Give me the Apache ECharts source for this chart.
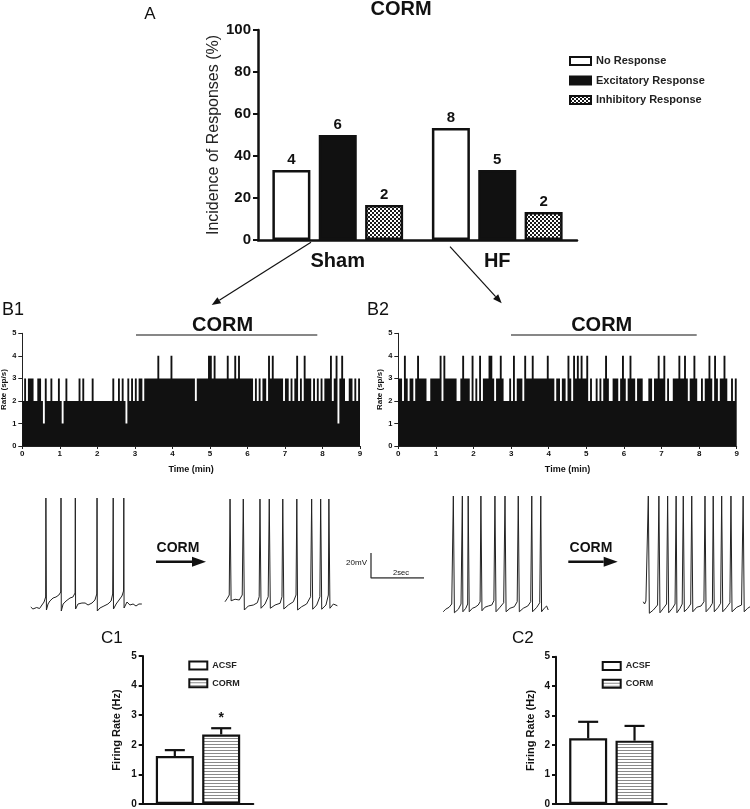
<!DOCTYPE html>
<html><head><meta charset="utf-8">
<script src="https://cdn.jsdelivr.net/npm/echarts@6/dist/echarts.min.js"></script>
<style>html,body{margin:0;padding:0;background:#fff}#c{width:750px;height:809px}</style>
</head><body><div id="c"></div>
<script>
// ---------- Panel A data ----------
const groups = ['Sham', 'HF'];
const noResp = [33.3, 53.3];
const excit = [50, 33.3];
const inhib = [16.7, 13.3];
const noRespN = [4, 8];
const excitN = [6, 5];
const inhibN = [2, 2];

// ---------- Panel B rate histograms (3-s bins, spikes/s), 10 bins per string ----------
const binMin = 0.05;
const b1Rate = [
  "2323332233","2132232223","2123222222","3232222322","2222222232","2323213232",
  "3233233333","3343333334","3333333333","3323333334","4343333334","3334343333",
  "3332323233","2434333332","3323234232","4333232323","2333423413","4322332323"
];
const b2Rate = [
  "3324323323","4333322333","3342433333","3223433324","2324233344","3233432223",
  "2423332433","3433333334","3332332332","4324343433","4232232323","4322333234",
  "3234332333","2223323343","3423223334","3343233432","2323343243","2334322323"
];
const timeTicksMax = 9;

// ---------- Membrane potential traces [s, mV] ----------
const traceShamACSF = [[0.03,-61.6],[0.11,-63.2],[0.25,-62],[0.36,-62.8],[0.45,-60],[0.53,-57.6],[0.59,-53.6],[0.60,25.6],[0.62,-64],[0.68,-59.2],[0.75,-56.8],[0.87,-54.4],[0.98,-53.6],[1.09,-52],[1.16,-49.6],[1.17,25.6],[1.18,-64.8],[1.25,-59.2],[1.36,-56.8],[1.51,-54.4],[1.62,-53.6],[1.70,-50.4],[1.71,25.6],[1.72,-63.2],[1.81,-59.2],[1.96,-58.4],[2.08,-58.4],[2.19,-60],[2.34,-58.4],[2.45,-56],[2.52,-51.2],[2.53,25.6],[2.54,-64.8],[2.64,-62.4],[2.79,-60.8],[2.94,-59.2],[3.06,-56.8],[3.12,-51.2],[3.14,25.6],[3.15,-63.2],[3.25,-59.2],[3.36,-56],[3.47,-52.8],[3.53,-48.8],[3.54,25.6],[3.55,-62.4],[3.66,-57.6],[3.77,-60],[3.89,-59.2],[4.00,-60.8],[4.11,-59.2],[4.22,-59.2]];
const traceShamCORM = [[0.00,-57.4],[0.09,-54.6],[0.16,-52],[0.19,24.8],[0.23,-56.6],[0.38,-55.4],[0.54,-56],[0.65,-52],[0.69,24.8],[0.73,-64],[0.88,-60.8],[1.07,-60],[1.22,-58.2],[1.29,-53.4],[1.32,24.8],[1.36,-62.6],[1.51,-59.2],[1.63,-53.4],[1.67,24.8],[1.71,-62.6],[1.89,-60],[2.08,-58.6],[2.15,-53.4],[2.18,24.8],[2.22,-63.2],[2.39,-60],[2.58,-57.4],[2.68,-52],[2.71,24.8],[2.74,-64],[2.89,-61.4],[3.08,-59.2],[3.23,-53.4],[3.27,24.8],[3.31,-63.4],[3.46,-60],[3.58,-53.4],[3.61,24.8],[3.65,-63.4],[3.81,-60],[3.90,-52],[3.92,24.8],[3.96,-62.6],[4.09,-59.2],[4.24,-60.6]];
const traceHFACSF = [[0.01,-65.4],[0.10,-63.4],[0.23,-61.8],[0.33,-59.2],[0.39,27.2],[0.43,-66.2],[0.58,-63.4],[0.68,-59.2],[0.73,27.2],[0.75,-65.4],[0.86,-62.6],[0.93,-59.2],[0.95,27.2],[0.99,-65.4],[1.11,-62.6],[1.21,-61.8],[1.33,-60],[1.40,-57.4],[1.43,27.2],[1.47,-64.6],[1.58,-61.8],[1.71,-60.8],[1.84,-60],[1.92,-56.6],[1.96,27.2],[2.00,-65.4],[2.15,-61.8],[2.29,-58.2],[2.34,27.2],[2.38,-65.4],[2.53,-62.6],[2.69,-61.4],[2.80,-57.4],[2.84,27.2],[2.88,-65.4],[3.03,-62.6],[3.20,-60.8],[3.31,-57.4],[3.35,27.2],[3.38,-65.4],[3.54,-61.8],[3.65,-58.2],[3.69,27.2],[3.72,-65.4],[3.82,-62.6],[3.91,-60.8],[3.97,-64]];
const traceHFCORM = [[0.01,-57.4],[0.06,-59.2],[0.11,-56.8],[0.17,-55.2],[0.20,27.2],[0.24,-66.6],[0.39,-64],[0.55,-60],[0.60,27.2],[0.64,-66.2],[0.77,-62.6],[0.89,-59.2],[0.93,27.2],[0.97,-66.2],[1.11,-62.6],[1.21,-59.2],[1.25,27.2],[1.28,-66.2],[1.40,-62.6],[1.48,-59.2],[1.52,27.2],[1.56,-65.4],[1.69,-62.6],[1.80,-59.2],[1.84,27.2],[1.88,-65.4],[2.03,-61.8],[2.19,-60.8],[2.30,-57.4],[2.34,27.2],[2.38,-65.4],[2.53,-61.8],[2.62,-58.6],[2.65,27.2],[2.69,-65.4],[2.84,-61.8],[2.93,-58.6],[2.97,27.2],[3.01,-65.4],[3.16,-61.8],[3.28,-58.2],[3.32,27.2],[3.36,-65.4],[3.54,-61.8],[3.72,-60],[3.78,27.2],[3.82,-65.4],[3.95,-62.6],[4.04,-61.4]];
const scaleBar = [[0, 20], [0, 0], [2, 0]]; // 20 mV / 2 s

// ---------- Panel C data ----------
const cCats = ['ACSF', 'CORM'];
const c1Mean = [1.62, 2.35];
const c1Sem = [0.20, 0.21];
const c2Mean = [2.23, 2.15];
const c2Sem = [0.56, 0.50];

// ---------- helpers ----------
const FONT = '"Liberation Sans", Arial, Helvetica, sans-serif';
const INK = '#111';
function histData(rows) {
  return rows.join('').split('').map((v, i) => [+(i * binMin).toFixed(3), +v]);
}
// whole histogram outline drawn as one polygon, every vertex mapped through the axes
function histRender(params, api) {
  if (params.dataIndexInside !== 0) return null;
  const n = params.dataInsideLength;
  const pts = [api.coord([api.value(0, 0), 0])];
  for (let j = 0; j < n; j++) {
    const t = api.value(0, j), v = api.value(1, j);
    pts.push(api.coord([t, v]));
    pts.push(api.coord([t + binMin, v]));
  }
  pts.push(api.coord([api.value(0, n - 1) + binMin, 0]));
  return { type: 'polygon', shape: { points: pts }, style: { fill: INK } };
}
function checker() {
  const c = document.createElement('canvas'); c.width = 4; c.height = 4;
  const g = c.getContext('2d');
  g.fillStyle = '#fff'; g.fillRect(0, 0, 4, 4);
  g.fillStyle = '#1a1a1a'; g.fillRect(0, 0, 2, 2); g.fillRect(2, 2, 2, 2);
  return c;
}
function stripes() {
  const c = document.createElement('canvas'); c.width = 4; c.height = 3;
  const g = c.getContext('2d');
  g.fillStyle = '#fff'; g.fillRect(0, 0, 4, 3);
  g.fillStyle = '#8a8a8a'; g.fillRect(0, 0, 4, 1);
  return c;
}
const checkFill = { image: checker(), repeat: 'repeat' };
const stripeFill = { image: stripes(), repeat: 'repeat' };

function txt(x, y, s, size, weight, align) {
  return { type: 'text', x, y, silent: true, z: 10,
    style: { text: s, fontSize: size, fontWeight: weight || 'normal', fontFamily: FONT,
             fill: INK, align: align || 'center', verticalAlign: 'middle' } };
}
function seg(x1, y1, x2, y2, w) {
  return { type: 'line', silent: true, z: 10, shape: { x1, y1, x2, y2 }, style: { stroke: INK, lineWidth: w } };
}
function arrow(x1, y1, tx, ty, w, len, half) {
  const dx = tx - x1, dy = ty - y1, L = Math.hypot(dx, dy);
  const ux = dx / L, uy = dy / L, bx = tx - ux * len, by = ty - uy * len;
  const px = -uy * half, py = ux * half;
  return [seg(x1, y1, bx, by, w),
    { type: 'polygon', silent: true, z: 10, shape: { points: [[tx, ty], [bx + px, by + py], [bx - px, by - py]] }, style: { fill: INK } }];
}

const BAR_W = 38, BAR_GAP = 0.22;
function errRender(params, api) {
  const i = api.value(3);
  const base = api.coord([0, api.value(1)]);
  const top = api.coord([0, api.value(2)]);
  const cx = base[0] + (i - 0.5) * (BAR_W + BAR_W * BAR_GAP);
  return { type: 'group', children: [
    { type: 'line', shape: { x1: cx, y1: base[1], x2: cx, y2: top[1] }, style: { stroke: INK, lineWidth: 2.2 } },
    { type: 'line', shape: { x1: cx - 10, y1: top[1], x2: cx + 10, y2: top[1] }, style: { stroke: INK, lineWidth: 2.2 } }
  ] };
}

const gridBase = { containLabel: false, outerBoundsMode: 'none' };
const grids = [
  { left: 258, top: 30, width: 319, height: 210 },          // 0 A
  { left: 22.3, top: 333.3, width: 337.7, height: 112.7 },  // 1 B1
  { left: 398.3, top: 333.3, width: 338.4, height: 112.7 }, // 2 B2
  { left: 30, top: 492.5, width: 116.6, height: 125 },      // 3 trace
  { left: 225, top: 492.5, width: 116.6, height: 125 },     // 4
  { left: 443, top: 492.5, width: 116.6, height: 125 },     // 5
  { left: 643, top: 492.5, width: 107.3, height: 125 },     // 6
  { left: 371, top: 553, width: 53, height: 25 },           // 7 scale bar
  { left: 142.7, top: 656, width: 110.6, height: 148 },     // 8 C1
  { left: 556, top: 656.7, width: 110.7, height: 147.3 }    // 9 C2
].map(g => Object.assign({}, gridBase, g));

const thickLine = { show: true, lineStyle: { color: INK, width: 2.5 } };
const lbl = (size, extra) => Object.assign({ color: INK, fontFamily: FONT, fontWeight: 'bold', fontSize: size }, extra || {});

function histX(gi) {
  return { type: 'value', gridIndex: gi, min: 0, max: timeTicksMax, interval: 1,
    axisLine: { show: true, lineStyle: { color: '#222', width: 1 } },
    axisTick: { show: true, length: 3, lineStyle: { color: '#222', width: 1 } },
    axisLabel: lbl(8, { margin: 4 }), splitLine: { show: false },
    name: 'Time (min)', nameLocation: 'middle', nameGap: 19, nameTextStyle: lbl(9) };
}
function histY(gi) {
  return { type: 'value', gridIndex: gi, min: 0, max: 5, interval: 1,
    axisLine: { show: true, lineStyle: { color: '#222', width: 1 } },
    axisTick: { show: true, length: 4, lineStyle: { color: '#222', width: 1 } },
    axisLabel: lbl(7.5, { margin: 6 }), splitLine: { show: false },
    name: 'Rate (sp/s)', nameLocation: 'middle', nameGap: 11, nameTextStyle: lbl(8) };
}
function hidX(gi, max) { return { type: 'value', gridIndex: gi, min: 0, max: max, show: false }; }
function hidY(gi, min, max) { return { type: 'value', gridIndex: gi, min: min, max: max, show: false }; }
function cX(gi) {
  return { type: 'category', gridIndex: gi, data: [''], axisLine: { show: true, lineStyle: { color: INK, width: 2 } },
    axisTick: { show: false }, axisLabel: { show: false } };
}
function cY(gi) {
  return { type: 'value', gridIndex: gi, min: 0, max: 5, interval: 1,
    axisLine: { show: true, lineStyle: { color: INK, width: 2 } },
    axisTick: { show: true, length: 4, lineStyle: { color: INK, width: 2 } },
    axisLabel: lbl(10, { margin: 6 }), splitLine: { show: false },
    name: 'Firing Rate (Hz)', nameLocation: 'middle', nameGap: 20, nameTextStyle: lbl(11) };
}

const xAxes = [
  { type: 'category', gridIndex: 0, data: groups, axisLine: thickLine, axisTick: { show: false },
    axisLabel: lbl(20, { margin: 11 }) },
  histX(1), histX(2),
  hidX(3, 4.4), hidX(4, 4.4), hidX(5, 4.4), hidX(6, 4.05),
  hidX(7, 2),
  cX(8), cX(9)
];
const yAxes = [
  { type: 'value', gridIndex: 0, min: 0, max: 100, interval: 20, axisLine: thickLine,
    axisTick: { show: true, length: 5, lineStyle: { color: INK, width: 2 } },
    axisLabel: lbl(15, { margin: 7 }), splitLine: { show: false },
    name: 'Incidence of Responses (%)', nameLocation: 'middle', nameGap: 35,
    nameTextStyle: { color: '#222', fontFamily: FONT, fontSize: 16 } },
  histY(1), histY(2),
  hidY(3, -70, 30), hidY(4, -70, 30), hidY(5, -70, 30), hidY(6, -70, 30),
  hidY(7, 0, 20),
  cY(8), cY(9)
];

function aBar(name, data, counts, fill) {
  return { type: 'bar', name, data, xAxisIndex: 0, yAxisIndex: 0, barWidth: BAR_W, barGap: '22%',
    itemStyle: { color: fill, borderColor: INK, borderWidth: 2.5 },
    label: { show: true, position: 'top', distance: 3, formatter: p => counts[p.dataIndex], ...lbl(15) } };
}
function histSeries(gi, rows) {
  return { type: 'custom', xAxisIndex: gi, yAxisIndex: gi, data: histData(rows), renderItem: histRender,
    silent: true, clip: true };
}
function traceSeries(gi, data) {
  return { type: 'line', xAxisIndex: gi, yAxisIndex: gi, data, symbol: 'none', silent: true,
    lineStyle: { color: '#222', width: 1 } };
}
function cBars(gi, mean, sem, star) {
  return [
    { type: 'bar', name: cCats[0], data: [mean[0]], xAxisIndex: gi, yAxisIndex: gi, barWidth: BAR_W, barGap: '22%',
      itemStyle: { color: '#fff', borderColor: INK, borderWidth: 2.2 } },
    { type: 'bar', name: cCats[1], data: [mean[1]], xAxisIndex: gi, yAxisIndex: gi, barWidth: BAR_W,
      itemStyle: { color: stripeFill, borderColor: INK, borderWidth: 2.2 },
      label: { show: !!star, position: 'top', distance: 9, formatter: star || '', ...lbl(14) } },
    { type: 'custom', xAxisIndex: gi, yAxisIndex: gi, renderItem: errRender, z: 5, silent: true,
      data: mean.map((m, i) => [0, m, m + sem[i], i]) }
  ];
}

const series = [
  aBar('No Response', noResp, noRespN, '#fff'),
  aBar('Excitatory Response', excit, excitN, INK),
  aBar('Inhibitory Response', inhib, inhibN, checkFill),
  histSeries(1, b1Rate), histSeries(2, b2Rate),
  traceSeries(3, traceShamACSF), traceSeries(4, traceShamCORM),
  traceSeries(5, traceHFACSF), traceSeries(6, traceHFCORM),
  { type: 'line', xAxisIndex: 7, yAxisIndex: 7, data: scaleBar, symbol: 'none', silent: true,
    lineStyle: { color: '#333', width: 1.3 } },
  ...cBars(8, c1Mean, c1Sem, '*'),
  ...cBars(9, c2Mean, c2Sem, null)
];

const legText = size => ({ color: '#222', fontFamily: FONT, fontWeight: 'bold', fontSize: size });
const legends = [
  { data: ['No Response', 'Excitatory Response', 'Inhibitory Response'], orient: 'vertical', left: 564, top: 50.5,
    itemWidth: 21, itemHeight: 8, itemGap: 8.5, icon: 'rect', selectedMode: false,
    itemStyle: { borderColor: INK, borderWidth: 2 }, textStyle: legText(11) },
  { data: cCats, orient: 'vertical', left: 183.3, top: 655.5, itemWidth: 18, itemHeight: 8, itemGap: 7.7, icon: 'rect',
    selectedMode: false, itemStyle: { borderColor: INK, borderWidth: 2 }, textStyle: legText(9) },
  { data: cCats, orient: 'vertical', left: 596.7, top: 656, itemWidth: 18, itemHeight: 8, itemGap: 7.7, icon: 'rect',
    selectedMode: false, itemStyle: { borderColor: INK, borderWidth: 2 }, textStyle: legText(9) }
];

const graphics = [
  txt(150, 14, 'A', 17),
  txt(401, 9.5, 'CORM', 20, 'bold'),
  ...arrow(311, 242.3, 211.7, 305, 1.2, 9, 3.5),
  ...arrow(450, 246.7, 501.7, 303.3, 1.2, 9, 3.5),
  txt(2, 310, 'B1', 18, 'normal', 'left'),
  txt(367, 310, 'B2', 18, 'normal', 'left'),
  txt(222.5, 325, 'CORM', 20, 'bold'),
  seg(136, 335, 317.3, 335, 1.2),
  txt(601.7, 325, 'CORM', 20, 'bold'),
  seg(511, 335, 696.7, 335, 1.2),
  txt(178, 548, 'CORM', 14, 'bold'),
  ...arrow(156, 561.7, 206, 561.7, 2.5, 14, 5),
  txt(591, 548, 'CORM', 14, 'bold'),
  ...arrow(568.3, 561.7, 617.7, 561.7, 2.5, 14, 5),
  txt(367, 563, '20mV', 8, 'normal', 'right'),
  txt(401, 573, '2sec', 7.5),
  txt(101, 638, 'C1', 17, 'normal', 'left'),
  txt(512, 638, 'C2', 17, 'normal', 'left')
];

const chart = echarts.init(document.getElementById('c'), null, { renderer: 'canvas' });
chart.setOption({
  animation: false,
  backgroundColor: '#fff',
  textStyle: { fontFamily: FONT },
  grid: grids,
  xAxis: xAxes,
  yAxis: yAxes,
  legend: legends,
  series: series,
  graphic: graphics
});
</script>
</body></html>
